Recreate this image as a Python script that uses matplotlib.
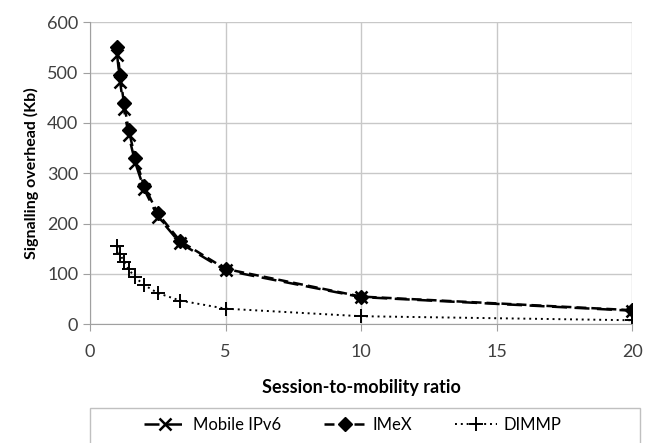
import matplotlib.pyplot as plt
from matplotlib.patches import Rectangle

plt.rcParams['font.family'] = ['Lato', 'DejaVu Sans']

ratio = [1, 1.11, 1.25, 1.43, 1.67, 2, 2.5, 3.33, 5, 10, 20]
mipv6 = [535, 482, 428, 375, 321, 268, 214, 161, 107, 54, 27]
imex = [550, 495, 440, 385, 330, 275, 220, 165, 110, 55, 28]
dimmp = [155, 140, 124, 109, 93, 78, 62, 47, 31, 16, 8]

fig = plt.figure(figsize=(6.45, 4.43), dpi=100)
ax = fig.add_axes([0.1395, 0.268, 0.8405, 0.682])

ax.plot(ratio, mipv6, color='black', linestyle=(0, (6, 3)), linewidth=1.8,
        marker='x', markersize=9, markeredgewidth=1.8, label='Mobile IPv6')
ax.plot(ratio, imex, color='black', linestyle=(0, (4, 2)), linewidth=1.8,
        marker='D', markersize=7, label='IMeX')
ax.plot(ratio, dimmp, color='black', linestyle=(0, (1, 2)), linewidth=1.4,
        marker='+', markersize=10, markeredgewidth=1.4, label='DIMMP')

ax.set_xlim(0, 20)
ax.set_ylim(0, 600)
ax.set_xticks([0, 5, 10, 15, 20])
ax.set_yticks(range(0, 601, 100))
ax.grid(True, color='#c8c8c8', linewidth=1)
ax.set_axisbelow(True)
for s in ['top', 'right']:
    ax.spines[s].set_visible(False)
for s in ['left', 'bottom']:
    ax.spines[s].set_color('#a0a0a0')
ax.tick_params(colors='#a0a0a0', labelcolor='#404040', labelsize=13, length=5)
ax.tick_params(axis='x', pad=9)

ax.set_xlabel('Session-to-mobility ratio', fontsize=13, fontweight='bold', labelpad=14)
ax.set_ylabel('Signalling overhead (Kb)', fontsize=11.5, fontweight='bold', labelpad=6)

fig.patches.append(Rectangle((0.14, -0.05), 0.853, 0.129, transform=fig.transFigure,
                             fill=False, edgecolor='#c0c0c0', linewidth=1))
fig.legend(loc='center', bbox_to_anchor=(0.547, 0.04), ncol=3, frameon=False,
           fontsize=12, handlelength=2.5, columnspacing=2.6, handletextpad=0.4)

fig.savefig('out.png', dpi=100)
